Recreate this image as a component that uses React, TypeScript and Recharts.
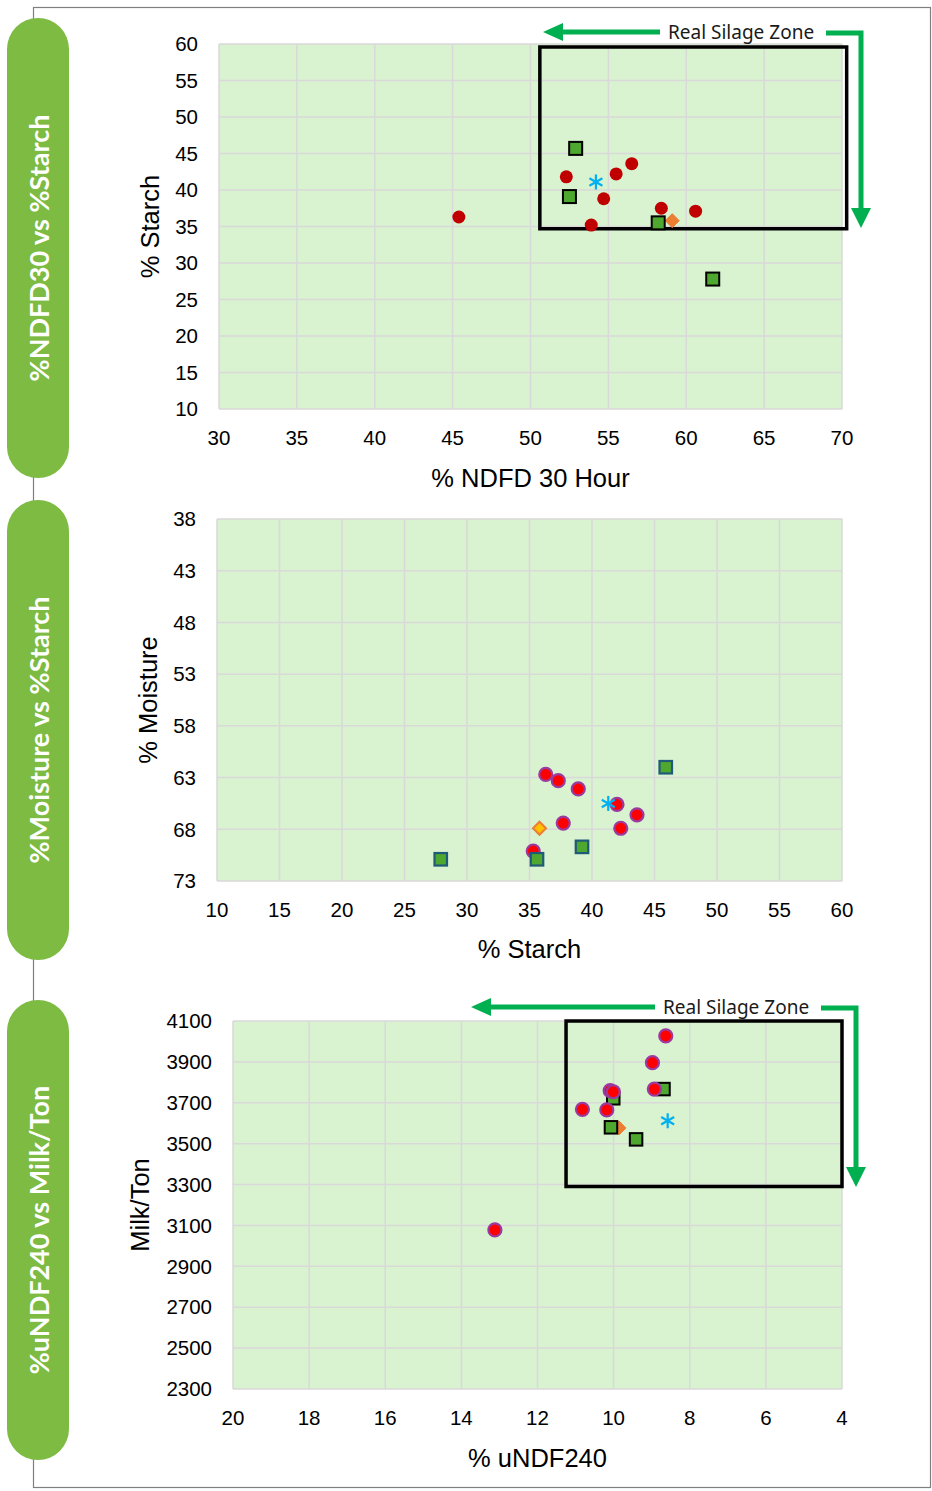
import React from "react";
import {
  CartesianGrid,
  ReferenceArea,
  Scatter,
  ScatterChart,
  XAxis,
  YAxis,
} from "recharts";

// ---- chart 1: %NDFD30 vs %Starch
const ndfdRed = [45.4, 52.3, 55.5, 56.5, 54.7, 53.9, 58.4, 60.6];
const starchRed = [36.3, 41.8, 42.2, 43.6, 38.8, 35.2, 37.5, 37.1];
const ndfdGreen = [52.9, 52.5, 58.2, 61.7];
const starchGreen = [45.7, 39.1, 35.5, 27.8];
const ndfdOrange = [59.1];
const starchOrange = [35.8];
const ndfdBlue = [54.2];
const starchBlue = [41.1];
const ndfdTicks = [30, 35, 40, 45, 50, 55, 60, 65, 70];
const starchTicks = [10, 15, 20, 25, 30, 35, 40, 45, 50, 55, 60];
const ndfdZone = { x1: 50.6, x2: 70.3, y1: 34.7, y2: 59.6 };

// ---- chart 2: %Moisture vs %Starch
const starchRed2 = [36.3, 37.3, 38.9, 42.0, 43.6, 42.3, 37.7, 35.3];
const moistRed = [62.7, 63.3, 64.1, 65.6, 66.6, 67.9, 67.4, 70.1];
const starchGreen2 = [45.9, 39.2, 35.6, 27.9];
const moistGreen = [62.0, 69.7, 70.9, 70.9];
const starchOrange2 = [35.8];
const moistOrange = [67.9];
const starchBlue2 = [41.3];
const moistBlue = [65.5];
const starchTicks2 = [10, 15, 20, 25, 30, 35, 40, 45, 50, 55, 60];
const moistTicks = [38, 43, 48, 53, 58, 63, 68, 73];

// ---- chart 3: %uNDF240 vs Milk/Ton
const undfRed = [8.63, 8.98, 8.93, 10.09, 10.01, 10.82, 10.18, 13.12];
const milkRed = [4027, 3896, 3767, 3759, 3754, 3668, 3665, 3078];
const undfGreen = [8.69, 10.01, 10.07, 9.41];
const milkGreen = [3767, 3722, 3580, 3521];
const undfOrange = [9.86];
const milkOrange = [3577];
const undfBlue = [8.58];
const milkBlue = [3612];
const undfTicks = [20, 18, 16, 14, 12, 10, 8, 6, 4];
const milkTicks = [2300, 2500, 2700, 2900, 3100, 3300, 3500, 3700, 3900, 4100];
const undfZone = { x1: 11.25, x2: 4, y1: 3290, y2: 4100 };

const zip = (xs: number[], ys: number[]) => xs.map((x, i) => ({ x, y: ys[i] }));

const FONT = "'Liberation Sans', Arial, sans-serif";
const PILL = "#7dbb42";
const ARROW = "#00b050";
const tickStyle = { fill: "#000", fontSize: 20.5, fontFamily: FONT };

const dot = (fill: string, stroke: string, r: number, sw: number) => (p: any) =>
  <circle cx={p.cx} cy={p.cy} r={r} fill={fill} stroke={stroke} strokeWidth={sw} />;

const square = (fill: string, stroke: string, s: number, sw: number) => (p: any) =>
  <rect x={p.cx - s / 2} y={p.cy - s / 2} width={s} height={s} fill={fill} stroke={stroke} strokeWidth={sw} />;

const diamond = (fill: string, stroke: string, s: number, sw: number) => (p: any) => {
  const h = s / 2;
  return (
    <polygon
      points={`${p.cx},${p.cy - h} ${p.cx + h},${p.cy} ${p.cx},${p.cy + h} ${p.cx - h},${p.cy}`}
      fill={fill}
      stroke={stroke}
      strokeWidth={sw}
    />
  );
};

const asterisk = (color: string, s: number) => (p: any) => {
  const h = s / 2;
  const dx = h * 0.866;
  const dy = h * 0.5;
  return (
    <g stroke={color} strokeWidth={2.2}>
      <line x1={p.cx} y1={p.cy - h} x2={p.cx} y2={p.cy + h} />
      <line x1={p.cx - dx} y1={p.cy - dy} x2={p.cx + dx} y2={p.cy + dy} />
      <line x1={p.cx - dx} y1={p.cy + dy} x2={p.cx + dx} y2={p.cy - dy} />
    </g>
  );
};

const xTitle = (text: string, dy: number) => (props: any) => {
  const vb = props.viewBox || { x: 0, y: 0, width: 0, height: 0 };
  return (
    <text
      x={vb.x + vb.width / 2}
      y={vb.y + dy}
      textAnchor="middle"
      dominantBaseline="central"
      fontSize={25.5}
      fontFamily={FONT}
      fill="#000"
    >
      {text}
    </text>
  );
};

const yTitle = (text: string, x: number) => (props: any) => {
  const vb = props.viewBox || { x: 0, y: 0, width: 0, height: 0 };
  const cy = vb.y + vb.height / 2;
  return (
    <text
      x={x}
      y={cy}
      transform={`rotate(-90, ${x}, ${cy})`}
      textAnchor="middle"
      dominantBaseline="central"
      fontSize={25.5}
      fontFamily={FONT}
      fill="#000"
    >
      {text}
    </text>
  );
};

function Pill({ top, label }: { top: number; label: string }) {
  const cx = 38;
  const cy = top + 230;
  return (
    <g>
      <rect x={7} y={top} width={62} height={460} rx={31} ry={31} fill={PILL} />
      <text
        x={cx}
        y={cy}
        transform={`rotate(-90, ${cx}, ${cy})`}
        textAnchor="middle"
        dominantBaseline="central"
        fill="#fff"
        fontSize={27}
        fontWeight={700}
        fontFamily="Lato, 'Open Sans', sans-serif"
      >
        {label}
      </text>
    </g>
  );
}

function Zone({ y, left, label, right, down }: { y: number; left: number; label: number; right: number; down: number }) {
  // green arrows around the "Real Silage Zone" caption
  return (
    <g>
      <line x1={label - 8} y1={y} x2={left + 16} y2={y} stroke={ARROW} strokeWidth={5} />
      <polygon points={`${left},${y} ${left + 20},${y - 9} ${left + 20},${y + 9}`} fill={ARROW} />
      <text x={label} y={y} dominantBaseline="central" fontSize={19} fontFamily="'Noto Sans', sans-serif" fill="#1a1a1a">
        Real Silage Zone
      </text>
      <polyline
        points={`${label + 158},${y + 1} ${right},${y + 1} ${right},${down - 16}`}
        fill="none"
        stroke={ARROW}
        strokeWidth={5}
      />
      <polygon points={`${right},${down} ${right - 10},${down - 20} ${right + 10},${down - 20}`} fill={ARROW} />
    </g>
  );
}

export default function App() {
  return (
    <div style={{ position: "absolute", left: 0, top: 0, width: 932, height: 1491, background: "#fff" }}>
      <svg width={932} height={1491} style={{ position: "absolute", left: 0, top: 0 }}>
        <rect x={33.5} y={7.5} width={897} height={1480} fill="none" stroke="#7f7f7f" strokeWidth={1.2} />
        <Pill top={18} label="%NDFD30 vs %Starch" />
        <Pill top={500} label="%Moisture vs %Starch" />
        <Pill top={1000} label="%uNDF240 vs Milk/Ton" />
      </svg>

      <div style={{ position: "absolute", left: 0, top: 0 }}>
        <ScatterChart width={932} height={500} margin={{ top: 44, right: 90, bottom: 0, left: 0 }}>
          <CartesianGrid fill="#d9f2d0" stroke="#d9d9d9" strokeWidth={1.5} />
          <XAxis
            type="number"
            dataKey="x"
            domain={[30, 70]}
            ticks={ndfdTicks}
            axisLine={false}
            tickLine={false}
            tickSize={0}
            tickMargin={21}
            tick={tickStyle}
            height={91}
            label={{ content: xTitle("% NDFD 30 Hour", 69) }}
          />
          <YAxis
            type="number"
            dataKey="y"
            domain={[10, 60]}
            ticks={starchTicks}
            axisLine={false}
            tickLine={false}
            tickSize={0}
            tickMargin={21}
            tick={tickStyle}
            width={219}
            label={{ content: yTitle("% Starch", 150) }}
          />
          <ReferenceArea {...ndfdZone} ifOverflow="visible" fill="none" stroke="#000" strokeWidth={3.5} />
          <Scatter data={zip(ndfdOrange, starchOrange)} shape={diamond("#ed7d31", "#ed7d31", 14, 1)} isAnimationActive={false} />
          <Scatter data={zip(ndfdGreen, starchGreen)} shape={square("#4ea72e", "#000", 13, 2)} isAnimationActive={false} />
          <Scatter data={zip(ndfdRed, starchRed)} shape={dot("#c00000", "#c00000", 6.5, 0)} isAnimationActive={false} />
          <Scatter data={zip(ndfdBlue, starchBlue)} shape={asterisk("#00b0f0", 15)} isAnimationActive={false} />
        </ScatterChart>
      </div>

      <div style={{ position: "absolute", left: 0, top: 500 }}>
        <ScatterChart width={932} height={470} margin={{ top: 19, right: 90, bottom: 0, left: 0 }}>
          <CartesianGrid fill="#d9f2d0" stroke="#d9d9d9" strokeWidth={1.5} />
          <XAxis
            type="number"
            dataKey="x"
            domain={[10, 60]}
            ticks={starchTicks2}
            axisLine={false}
            tickLine={false}
            tickSize={0}
            tickMargin={21}
            tick={tickStyle}
            height={89}
            label={{ content: xTitle("% Starch", 68) }}
          />
          <YAxis
            type="number"
            dataKey="y"
            domain={[38, 73]}
            reversed
            ticks={moistTicks}
            axisLine={false}
            tickLine={false}
            tickSize={0}
            tickMargin={21}
            tick={tickStyle}
            width={217}
            label={{ content: yTitle("% Moisture", 148) }}
          />
          <Scatter data={zip(starchOrange2, moistOrange)} shape={diamond("#ffc000", "#ed7d31", 13, 2)} isAnimationActive={false} />
          <Scatter data={zip(starchRed2, moistRed)} shape={dot("#ff0000", "#9a3a9e", 6.5, 2.2)} isAnimationActive={false} />
          <Scatter data={zip(starchGreen2, moistGreen)} shape={square("#4ea72e", "#1f5a78", 12.5, 2.2)} isAnimationActive={false} />
          <Scatter data={zip(starchBlue2, moistBlue)} shape={asterisk("#00b0f0", 15)} isAnimationActive={false} />
        </ScatterChart>
      </div>

      <div style={{ position: "absolute", left: 0, top: 1000 }}>
        <ScatterChart width={932} height={491} margin={{ top: 21, right: 90, bottom: 0, left: 0 }}>
          <CartesianGrid fill="#d9f2d0" stroke="#d9d9d9" strokeWidth={1.5} />
          <XAxis
            type="number"
            dataKey="x"
            domain={[4, 20]}
            reversed
            ticks={undfTicks}
            axisLine={false}
            tickLine={false}
            tickSize={0}
            tickMargin={21}
            tick={tickStyle}
            height={102}
            label={{ content: xTitle("% uNDF240", 69) }}
          />
          <YAxis
            type="number"
            dataKey="y"
            domain={[2300, 4100]}
            ticks={milkTicks}
            axisLine={false}
            tickLine={false}
            tickSize={0}
            tickMargin={21}
            tick={tickStyle}
            width={233}
            label={{ content: yTitle("Milk/Ton", 140) }}
          />
          <ReferenceArea {...undfZone} ifOverflow="visible" fill="none" stroke="#000" strokeWidth={3.5} />
          <Scatter data={zip(undfOrange, milkOrange)} shape={diamond("#ed7d31", "#ed7d31", 14, 1)} isAnimationActive={false} />
          <Scatter data={zip(undfGreen, milkGreen)} shape={square("#4ea72e", "#000", 12.5, 2)} isAnimationActive={false} />
          <Scatter data={zip(undfRed, milkRed)} shape={dot("#ff0000", "#9a3a9e", 6.5, 2.2)} isAnimationActive={false} />
          <Scatter data={zip(undfBlue, milkBlue)} shape={asterisk("#00b0f0", 15)} isAnimationActive={false} />
        </ScatterChart>
      </div>

      <svg width={932} height={1491} style={{ position: "absolute", left: 0, top: 0, pointerEvents: "none" }}>
        <Zone y={32} left={543} label={668} right={861} down={228} />
        <Zone y={1007} left={471} label={663} right={856} down={1187} />
      </svg>
    </div>
  );
}
